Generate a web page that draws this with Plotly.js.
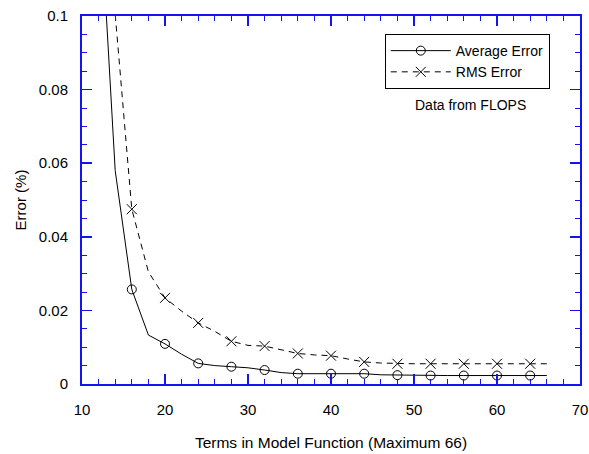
<!DOCTYPE html>
<html>
<head>
<meta charset="utf-8">
<script src="https://cdn.plot.ly/plotly-3.0.1.min.js"></script>
<style>html,body{margin:0;padding:0;background:#fff;}#chart{width:589px;height:454px;}</style>
</head>
<body>
<div id="chart"></div>
<script>
// Terms in model function (line vertices)
const terms = [12,14,16,18,20,22,24,26,28,30,32,34,36,38,40,42,44,46,48,50,52,54,56,58,60,62,64,66];
// Average error (%)
const avgError = [0.137,0.058,0.0257,0.0133,0.0109,0.0081,0.0056,0.0050,0.0047,0.0044,0.0038,0.0031,0.0028,0.0028,0.0028,0.0028,0.0028,0.0025,0.0024,0.0024,0.0023,0.0023,0.0023,0.0023,0.0023,0.0023,0.0023,0.0023];
// RMS error (%)
const rmsError = [0.16,0.1005,0.0475,0.0305,0.0234,0.0198,0.0166,0.0143,0.0116,0.0105,0.0103,0.0092,0.0083,0.0079,0.0077,0.0068,0.0060,0.0057,0.0055,0.0055,0.0055,0.0055,0.0055,0.0055,0.0055,0.0055,0.0055,0.0055];
// Terms where markers are drawn
const markerTerms = [16,20,24,28,32,36,40,44,48,52,56,60,64];
const seriesNames = ['Average Error','RMS Error'];
const note = 'Data from FLOPS';
const xTitle = 'Terms in Model Function (Maximum 66)';
const yTitle = 'Error (%)';

function pick(xs, ys, keep){
  const ox=[], oy=[];
  xs.forEach((x,i)=>{ if(keep.includes(x)){ ox.push(x); oy.push(ys[i]); } });
  return [ox, oy];
}
const [amx, amy] = pick(terms, avgError, markerTerms);
const [rmx, rmy] = pick(terms, rmsError, markerTerms);

const FONT = 'Liberation Sans, Arial, sans-serif';
const BLUE = '#1414f0';

const traces = [
  {x: terms, y: avgError, mode:'lines', line:{color:'#000', width:1}, showlegend:false, hoverinfo:'skip'},
  {x: amx, y: amy, mode:'markers', marker:{symbol:'circle-open', size:9, color:'#000', line:{width:1}}, showlegend:false},
  {x: terms, y: rmsError, mode:'lines', line:{color:'#000', width:1, dash:'6px,5px'}, showlegend:false, hoverinfo:'skip'},
  {x: rmx, y: rmy, mode:'markers', marker:{symbol:'x-thin-open', size:10, color:'#000', line:{width:1, color:'#000'}}, showlegend:false},
  {x:[null], y:[null], mode:'lines+markers', name: seriesNames[0], line:{color:'#000', width:1}, marker:{symbol:'circle-open', size:9, color:'#000', line:{width:1}}},
  {x:[null], y:[null], mode:'lines+markers', name: seriesNames[1], line:{color:'#000', width:1, dash:'6px,5px'}, marker:{symbol:'x-thin-open', size:10, color:'#000', line:{width:1, color:'#000'}}}
];

const axisCommon = {
  showline:true, linecolor:BLUE, linewidth:2, mirror:'ticks',
  ticks:'inside', tickcolor:BLUE, tickwidth:1.5, ticklen:10,
  showgrid:false, zeroline:false,
  tickfont:{family:FONT, size:15, color:'#000'}
};

const layout = {
  width:589, height:454,
  margin:{l:82, r:9, t:16, b:70},
  paper_bgcolor:'#fff', plot_bgcolor:'#fff',
  font:{family:FONT, size:14, color:'#000'},
  xaxis: Object.assign({}, axisCommon, {
    range:[10,70], dtick:10, tick0:10,
    minor:{ticks:'inside', ticklen:5, dtick:2, tickcolor:BLUE, tickwidth:1},
    ticklabelstandoff:11,
    title:{text:xTitle, font:{family:FONT, size:15.5}, standoff:20}
  }),
  yaxis: Object.assign({}, axisCommon, {
    range:[0,0.1], dtick:0.02,
    minor:{ticks:'inside', ticklen:5, dtick:0.005, tickcolor:BLUE, tickwidth:1},
    ticklabelstandoff:9,
    title:{text:yTitle, font:{family:FONT, size:15}, standoff:9}
  }),
  legend:{x:0.608, y:0.951, xanchor:'left', yanchor:'top', bordercolor:'#000', borderwidth:1,
    bgcolor:'#fff', font:{family:FONT, size:14}, itemwidth:60, tracegroupgap:0},
  annotations:[{xref:'paper', yref:'paper', x:0.78, y:0.758, xanchor:'center', yanchor:'middle', showarrow:false,
    text:note, font:{family:FONT, size:14, color:'#000'}}]
};

Plotly.newPlot('chart', traces, layout, {displayModeBar:false, staticPlot:true});
</script>
</body>
</html>
